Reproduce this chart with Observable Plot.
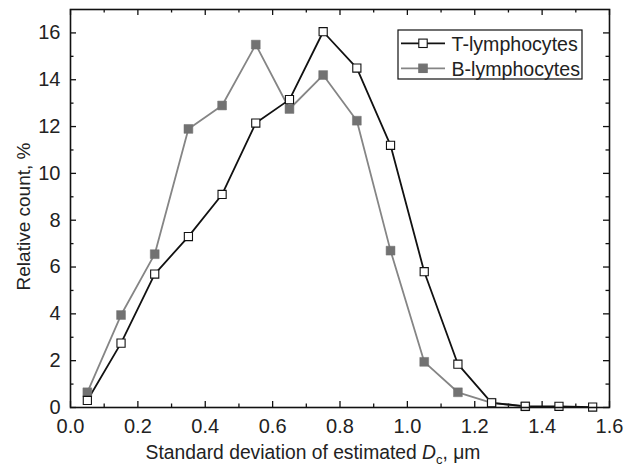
<!DOCTYPE html>
<html><head><meta charset="utf-8">
<script src="https://cdn.jsdelivr.net/npm/d3@7"></script>
<script src="https://cdn.jsdelivr.net/npm/@observablehq/plot@0.6"></script>
<style>body{margin:0;background:#fff}svg{font-family:"Liberation Sans",Arial,sans-serif}</style>
</head><body><div id="c"></div>
<script>
const sd = [0.05,0.15,0.25,0.35,0.45,0.55,0.65,0.75,0.85,0.95,1.05,1.15,1.25,1.35,1.45,1.55];
const tLymph = [0.3,2.75,5.7,7.3,9.1,12.15,13.15,16.05,14.5,11.2,5.8,1.85,0.2,0.05,0.05,0.02];
const bLymph = [0.65,3.95,6.55,11.9,12.9,15.5,12.75,14.2,12.25,6.7,1.95,0.65,0.2,0.05];
const xMajor = [0,0.2,0.4,0.6,0.8,1.0,1.2,1.4,1.6];
const xMinor = [0.1,0.3,0.5,0.7,0.9,1.1,1.3,1.5];
const yMajor = [0,2,4,6,8,10,12,14,16];
const yMinor = [1,3,5,7,9,11,13,15];
const seriesNames = ["T-lymphocytes","B-lymphocytes"];

const T = sd.map((x,i)=>({x, y:tLymph[i]}));
const B = bLymph.map((y,i)=>({x:sd[i], y}));
const X0=0, X1=1.6, Y0=0, Y1=17;
const W=630, H=468, mL=70, mR=21, mT=9, mB=61;
const pxX = (X1-X0)/(W-mL-mR), pxY = (Y1-Y0)/(H-mT-mB);
const maj=6, mn=3.5;
const blk="#111", gLine="#858585", gFill="#727272";

const plot = Plot.plot({
  width: W, height: H, marginLeft: mL, marginRight: mR, marginTop: mT, marginBottom: mB,
  style: {fontFamily:'"Liberation Sans",Arial,sans-serif', fontSize:"20px", color:"#222", background:"#fff"},
  x: {domain:[X0,X1], ticks: xMajor, tickFormat: d3.format(".1f"), tickSize: 0, tickPadding: 11, label: null},
  y: {domain:[Y0,Y1], ticks: yMajor, tickFormat: d3.format("d"), tickSize: 0, tickPadding: 10, label: null},
  marks: [
    Plot.ruleX(xMajor, {x:d=>d, y1:Y0, y2:Y0+maj*pxY, stroke:blk, strokeWidth:1.3}),
    Plot.ruleX(xMinor, {x:d=>d, y1:Y0, y2:Y0+mn*pxY, stroke:blk, strokeWidth:1.3}),
    Plot.ruleX(xMajor, {x:d=>d, y1:Y1-maj*pxY, y2:Y1, stroke:blk, strokeWidth:1.3}),
    Plot.ruleX(xMinor, {x:d=>d, y1:Y1-mn*pxY, y2:Y1, stroke:blk, strokeWidth:1.3}),
    Plot.ruleY(yMajor, {y:d=>d, x1:X0, x2:X0+maj*pxX, stroke:blk, strokeWidth:1.3}),
    Plot.ruleY(yMinor, {y:d=>d, x1:X0, x2:X0+mn*pxX, stroke:blk, strokeWidth:1.3}),
    Plot.ruleY(yMajor, {y:d=>d, x1:X1-maj*pxX, x2:X1, stroke:blk, strokeWidth:1.3}),
    Plot.ruleY(yMinor, {y:d=>d, x1:X1-mn*pxX, x2:X1, stroke:blk, strokeWidth:1.3}),
    Plot.line(B, {x:"x", y:"y", stroke:gLine, strokeWidth:1.8}),
    Plot.line(T, {x:"x", y:"y", stroke:blk, strokeWidth:1.8}),
    Plot.dot(B, {x:"x", y:"y", symbol:"square", r:5, fill:gFill, stroke:gFill, strokeWidth:0.5}),
    Plot.dot(T, {x:"x", y:"y", symbol:"square", r:4.6, fill:"#fff", stroke:blk, strokeWidth:1.1}),
    Plot.frame({stroke:blk, strokeWidth:1.6})
  ]
});

const svg = d3.select(plot.tagName.toLowerCase()==="svg" ? plot : plot.querySelector("svg"));
// axis labels
svg.append("text").attr("x", 313).attr("y", 459).attr("text-anchor","middle")
  .attr("font-size", 19.3).attr("fill","#222")
  .html('Standard deviation of estimated <tspan font-style="italic">D</tspan><tspan font-size="13" dy="5">c</tspan><tspan dy="-5">, μm</tspan>');
svg.append("text").attr("transform", `translate(30,216.5) rotate(-90)`).attr("text-anchor","middle")
  .attr("font-size", 19).attr("fill","#222").text("Relative count, %");
// legend
const lg = svg.append("g").attr("transform","translate(398,30)");
lg.append("rect").attr("width",184).attr("height",49).attr("fill","#fff").attr("stroke",blk).attr("stroke-width",1.2);
const rows = [{name:seriesNames[0], line:blk, fill:"#fff", stroke:blk, y:13.3},{name:seriesNames[1], line:gLine, fill:gFill, stroke:gFill, y:38.3}];
rows.forEach(r=>{
  lg.append("line").attr("x1",3).attr("x2",47).attr("y1",r.y).attr("y2",r.y).attr("stroke",r.line).attr("stroke-width",1.8);
  lg.append("rect").attr("x",25-4.2).attr("y",r.y-4.2).attr("width",8.4).attr("height",8.4).attr("fill",r.fill).attr("stroke",r.stroke).attr("stroke-width",1.1);
  lg.append("text").attr("x",53.5).attr("y",r.y+7.4).attr("text-anchor","start").attr("font-size",19.6).attr("fill","#222").text(r.name);
});
document.getElementById("c").appendChild(plot);
</script></body></html>
